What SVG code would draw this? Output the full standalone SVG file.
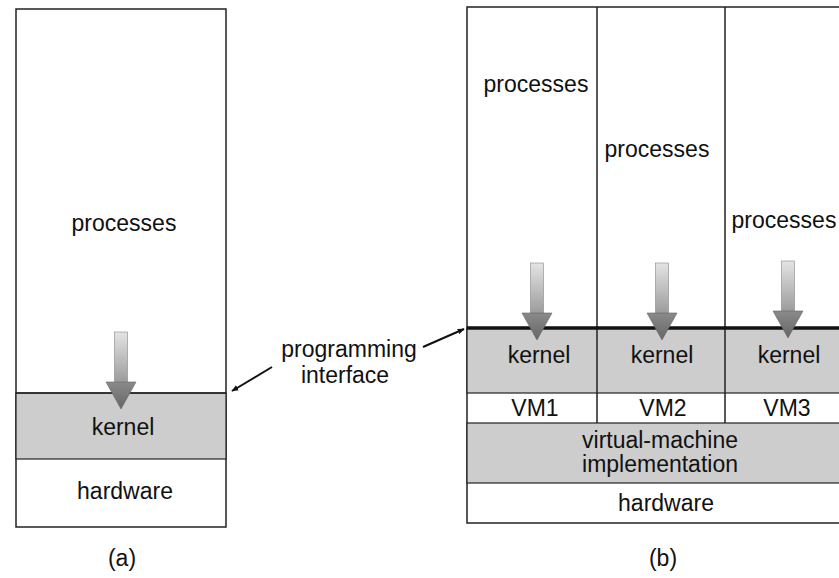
<svg xmlns="http://www.w3.org/2000/svg" width="839" height="578" viewBox="0 0 839 578">
<style>
text{font-family:"Liberation Sans",Arial,sans-serif;font-size:23px;fill:#111;text-anchor:middle}
.box{fill:#fff;stroke:#222;stroke-width:1.5}
.shade{fill:#cdcdcd;stroke:#222;stroke-width:1.2}
.line{stroke:#222;stroke-width:1.5;fill:none}
.thick{stroke:#111;stroke-width:3.5;fill:none}
.shaft{fill:url(#sg);stroke:#888;stroke-width:0.6}
.head{fill:url(#hg);stroke:#666;stroke-width:0.6}
.conn{stroke:#111;stroke-width:2;fill:none}
</style>
<defs>
<linearGradient id="sg" x1="0" y1="0" x2="0" y2="1">
<stop offset="0" stop-color="#e4e4e4"/>
<stop offset="1" stop-color="#999"/>
</linearGradient>
<linearGradient id="hg" x1="0" y1="0" x2="0" y2="1">
<stop offset="0" stop-color="#8a8a8a"/>
<stop offset="1" stop-color="#666"/>
</linearGradient>
<marker id="ah" viewBox="0 0 10 10" refX="9" refY="5" markerWidth="7" markerHeight="7" orient="auto" markerUnits="userSpaceOnUse">
<path d="M0,1 L10,5 L0,9 z" fill="#111"/>
</marker>
<g id="downArrow">
<rect class="shaft" x="-6.5" y="0" width="13" height="52"/>
<path class="head" d="M-15,50 L15,50 L0,77 z"/>
</g>
</defs>

<g id="stack-a">
<rect class="box" x="16" y="9" width="210" height="518"/>
<rect class="shade" x="16" y="393" width="210" height="66"/>
<line class="line" x1="16" y1="393" x2="226" y2="393"/>
<text x="124" y="231">processes</text>
<use href="#downArrow" x="121" y="332"/>
<text x="123" y="435">kernel</text>
<text x="125" y="499">hardware</text>
<text x="122" y="566">(a)</text>
</g>

<g id="stack-b">
<rect class="box" x="467" y="7" width="380" height="516"/>
<rect class="shade" x="467" y="328" width="380" height="65"/>
<rect class="shade" x="467" y="423" width="380" height="60"/>
<line class="line" x1="597" y1="7" x2="597" y2="423"/>
<line class="line" x1="725" y1="7" x2="725" y2="423"/>
<line class="thick" x1="467" y1="328" x2="839" y2="328"/>
<text x="536" y="92">processes</text>
<text x="657" y="157">processes</text>
<text x="784" y="228">processes</text>
<use href="#downArrow" x="537" y="263"/>
<use href="#downArrow" x="662" y="263"/>
<use href="#downArrow" x="788" y="261"/>
<text x="539" y="363">kernel</text>
<text x="662" y="363">kernel</text>
<text x="789" y="363">kernel</text>
<text x="535" y="416">VM1</text>
<text x="663" y="416">VM2</text>
<text x="787" y="416">VM3</text>
<text x="660" y="448">virtual-machine</text>
<text x="660" y="472">implementation</text>
<text x="666" y="511">hardware</text>
<text x="663" y="566">(b)</text>
</g>

<g id="label-programming-interface">
<text x="349" y="357">programming</text>
<text x="345" y="383">interface</text>
</g>

<g id="connectors">
<line class="conn" x1="272" y1="367" x2="232" y2="391" marker-end="url(#ah)"/>
<line class="conn" x1="423" y1="347" x2="464" y2="329" marker-end="url(#ah)"/>
</g>
</svg>
